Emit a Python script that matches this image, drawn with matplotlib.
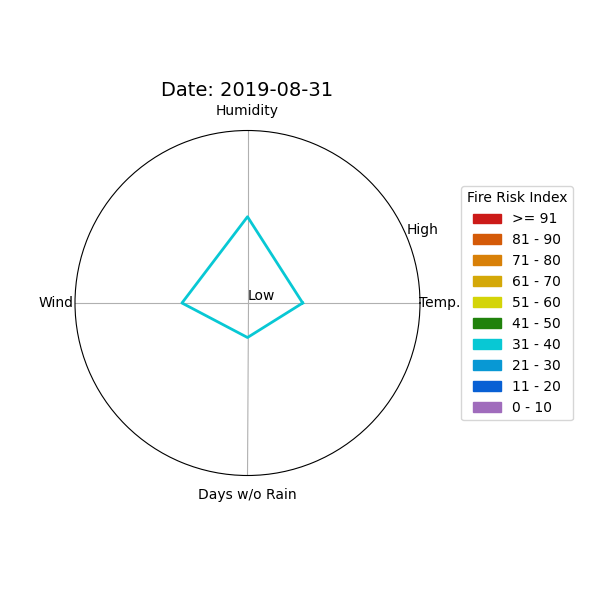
import numpy as np
import matplotlib
matplotlib.use("Agg")
import matplotlib.pyplot as plt
from matplotlib.patches import Patch

categories = ["Temp.", "Humidity", "Wind", "Days w/o Rain"]
values = [32, 50, 38, 20]
date_label = "2019-08-31"
legend_labels = [">= 91", "81 - 90", "71 - 80", "61 - 70", "51 - 60",
                 "41 - 50", "31 - 40", "21 - 30", "11 - 20", "0 - 10"]
legend_colors = ["#cc1a18", "#d45a08", "#d88008", "#d4a808", "#d4d408",
                 "#20820c", "#08c8d4", "#0898d4", "#0860d4", "#a06cbc"]
line_color = "#08c8d4"

fig = plt.figure(figsize=(6, 6), dpi=100)
fig.subplots_adjust(right=0.7)
ax = fig.add_subplot(111, projection="polar")

angles = np.linspace(0, 2 * np.pi, len(categories), endpoint=False)
a_closed = np.concatenate([angles, angles[:1]])
v_closed = values + values[:1]
ax.plot(a_closed, v_closed, color=line_color, linewidth=2)

ax.set_ylim(0, 100)
ax.set_yticks([])
ax.set_xticks(angles)
ax.set_xticklabels(categories)
ax.xaxis.grid(True, color="#b0b0b0", linewidth=0.8)

ax.text(0, 0, "Low", fontsize=10, va="bottom")
ax.text(np.pi / 8, 100, "High", fontsize=10, va="bottom")

ax.set_title("Date: " + date_label, fontsize=14)

handles = [Patch(color=c, label=l) for c, l in zip(legend_colors, legend_labels)]
ax.legend(handles=handles, title="Fire Risk Index", loc="center left",
          bbox_to_anchor=(1.1, 0.5))

fig.savefig("out.png", dpi=100)
